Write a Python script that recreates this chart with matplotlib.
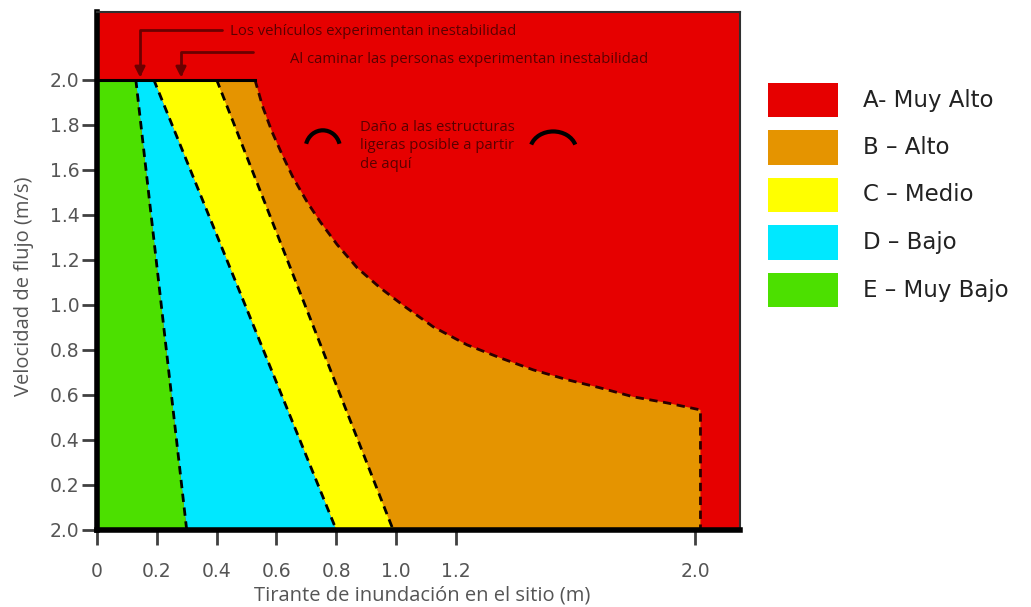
import matplotlib
matplotlib.use("Agg")
import matplotlib.pyplot as plt
from matplotlib.patches import Polygon, Rectangle, Arc

# Datos (tirante en m, velocidad en m/s)
lim_E_D_x = [0.13, 0.30]          # limite verde / cian (arriba, abajo)
lim_D_C_x = [0.19, 0.80]          # limite cian / amarillo
lim_C_B_x = [0.40, 0.99]          # limite amarillo / naranja
curva_B_A_x = [0.528, 0.555, 0.585, 0.619, 0.656, 0.702, 0.746, 0.803, 0.870, 0.946,
               1.030, 1.124, 1.237, 1.348, 1.458, 1.572, 1.682, 1.793, 1.906, 2.017]
curva_B_A_y = [2.000, 1.876, 1.769, 1.667, 1.564, 1.458, 1.369, 1.267, 1.164, 1.076,
               0.991, 0.902, 0.822, 0.764, 0.711, 0.667, 0.631, 0.591, 0.564, 0.533]
v_max = 2.0

xticks = [0, 0.2, 0.4, 0.6, 0.8, 1.0, 1.2, 2.0]
xticklabels = ["0", "0.2", "0.4", "0.6", "0.8", "1.0", "1.2", "2.0"]
yticks = [0, 0.2, 0.4, 0.6, 0.8, 1.0, 1.2, 1.4, 1.6, 1.8, 2.0]
yticklabels = ["2.0", "0.2", "0.4", "0.6", "0.8", "1.0", "1.2", "1.4", "1.6", "1.8", "2.0"]

niveles = ["A- Muy Alto", "B \u2013 Alto", "C \u2013 Medio", "D \u2013 Bajo", "E \u2013 Muy Bajo"]
colores = ["#E60000", "#E59400", "#FFFF00", "#00E8FF", "#4CE000"]

fig = plt.figure(figsize=(10.31, 6.07), dpi=100)
ax = fig.add_axes([0.094, 0.127, 0.624, 0.853])
ax.set_xlim(0, 2.15)
ax.set_ylim(0, 2.30)
ax.set_facecolor(colores[0])

# zonas
verde = [(0, 0), (0, v_max), (lim_E_D_x[0], v_max), (lim_E_D_x[1], 0)]
cian = [(lim_E_D_x[0], v_max), (lim_D_C_x[0], v_max), (lim_D_C_x[1], 0), (lim_E_D_x[1], 0)]
amarillo = [(lim_D_C_x[0], v_max), (lim_C_B_x[0], v_max), (lim_C_B_x[1], 0), (lim_D_C_x[1], 0)]
naranja = [(lim_C_B_x[0], v_max)] + list(zip(curva_B_A_x, curva_B_A_y)) + \
          [(curva_B_A_x[-1], 0), (lim_C_B_x[1], 0)]
for pts, c in zip([naranja, amarillo, cian, verde], colores[1:]):
    ax.add_patch(Polygon(pts, closed=True, facecolor=c, edgecolor="none", zorder=1))

# limites punteados
dash = dict(color="black", lw=2, dashes=(3, 2), zorder=2)
ax.plot([lim_E_D_x[0], lim_E_D_x[1]], [v_max, 0], **dash)
ax.plot([lim_D_C_x[0], lim_D_C_x[1]], [v_max, 0], **dash)
ax.plot([lim_C_B_x[0], lim_C_B_x[1]], [v_max, 0], **dash)
ax.plot(curva_B_A_x + [curva_B_A_x[-1]], curva_B_A_y + [0],
        color="#2a0000", lw=2, dashes=(3, 2), zorder=2)
ax.plot([0, curva_B_A_x[0]], [v_max, v_max], color="black", lw=2.2, zorder=2)

# anotaciones
col_txt = "#5a0000"
ax.annotate("", xy=(0.144, 2.01), xytext=(0.418, 2.222),
            arrowprops=dict(arrowstyle="-|>", color="#6b0000", lw=2, shrinkA=0, shrinkB=0,
                            mutation_scale=15, connectionstyle="angle,angleA=0,angleB=90,rad=0"))
ax.annotate("", xy=(0.281, 2.01), xytext=(0.522, 2.124),
            arrowprops=dict(arrowstyle="-|>", color="#6b0000", lw=2, shrinkA=0, shrinkB=0,
                            mutation_scale=15, connectionstyle="angle,angleA=0,angleB=90,rad=0"))
ax.text(0.445, 2.213, "Los vehículos experimentan inestabilidad", color=col_txt,
        fontsize=10.7, family="Open Sans", va="center", ha="left")
ax.text(0.645, 2.09, "Al caminar las personas experimentan inestabilidad", color=col_txt,
        fontsize=10.7, family="Open Sans", va="center", ha="left")
ax.text(0.88, 1.82, "Daño a las estructuras\nligeras posible a partir\nde aquí", color=col_txt,
        fontsize=10.7, family="Open Sans", va="top", ha="left", linespacing=1.3)
ax.add_patch(Arc((0.755, 1.695), 0.115, 0.16, theta1=20, theta2=160, color="black", lw=3, zorder=3))
ax.add_patch(Arc((1.525, 1.685), 0.155, 0.17, theta1=20, theta2=160, color="black", lw=3, zorder=3))

# ejes
for s in ["left", "bottom"]:
    ax.spines[s].set_linewidth(4)
    ax.spines[s].set_color("black")
for s in ["top", "right"]:
    ax.spines[s].set_linewidth(1.5)
    ax.spines[s].set_color("#303030")
ax.set_xticks(xticks)
ax.set_xticklabels(xticklabels)
ax.set_yticks(yticks)
ax.set_yticklabels(yticklabels)
ax.tick_params(length=11, width=2, color="#404040", labelcolor="#555555", labelsize=13.5)
ax.tick_params(axis="x", pad=12)
ax.tick_params(axis="y", pad=1.5)
ax.set_xlabel("Tirante de inundación en el sitio (m)", color="#555555", fontsize=14.5,
              family="Open Sans")
ax.set_ylabel("Velocidad de flujo (m/s)", color="#555555", fontsize=14.5,
              family="Open Sans")
ax.xaxis.set_label_coords(0.505, -0.108)
ax.yaxis.set_label_coords(-0.098, 0.47)

# leyenda
for i, (n, c) in enumerate(zip(niveles, colores)):
    y0 = 1 - (83 + i * 47.5) / 607
    fig.patches.append(Rectangle((768 / 1031, y0 - 34 / 607), 70 / 1031, 34 / 607,
                                 transform=fig.transFigure, facecolor=c, edgecolor="none"))
    fig.text(863 / 1031, y0 - 17 / 607, n, fontsize=16.5, family="DejaVu Sans", color="#222222",
             va="center", ha="left")

fig.savefig("out.png", dpi=100)
